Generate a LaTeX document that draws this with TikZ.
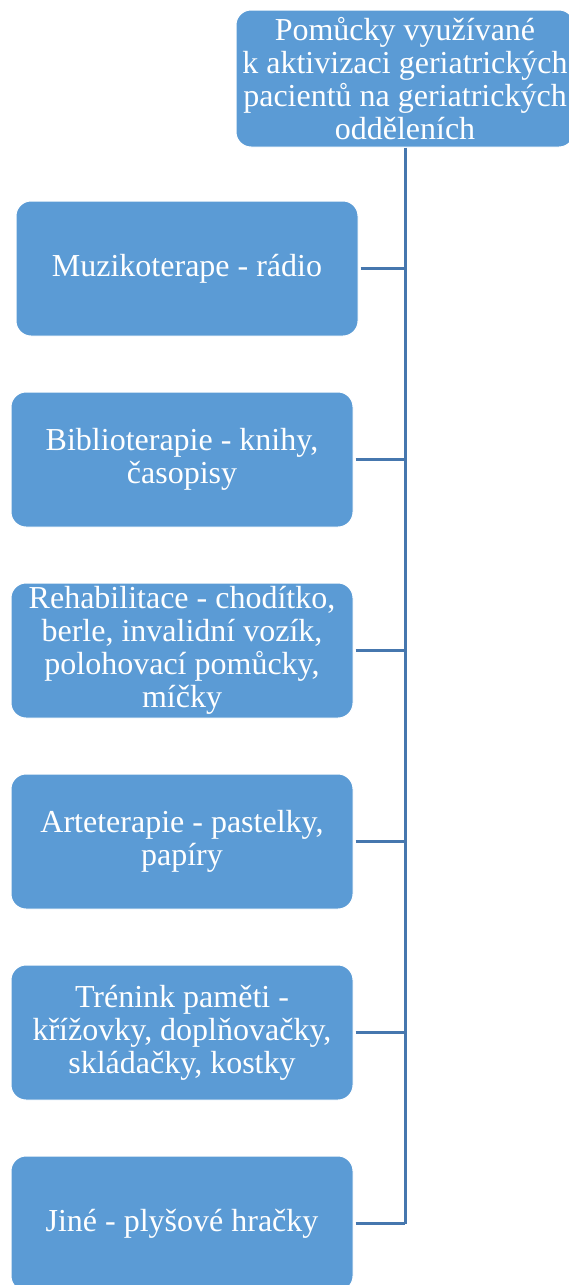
\documentclass[tikz,border=0pt]{standalone}
\usepackage{fontspec}
\setmainfont{Liberation Serif}
\definecolor{boxblue}{HTML}{5B9BD5}
\definecolor{linkblue}{HTML}{4677AE}
\begin{document}
\begin{tikzpicture}[x=1pt,y=-1pt,
  item/.style={draw=white,line width=1pt,fill=boxblue,rounded corners=15pt,
    minimum width=342pt,minimum height=135pt,align=center,text=white,
    font=\fontsize{32}{33}\selectfont,inner sep=1pt},
  link/.style={draw=linkblue,line width=2.8pt}]
\useasboundingbox (0,0) rectangle (568,1285);
\node[item,minimum width=338pt,minimum height=137pt] (top) at (405,78.5)
  {Pomůcky využívané\\k aktivizaci geriatrických\\pacientů na geriatrických\\odděleních};
\node[item] (b1) at (187,268.5) {Muzikoterape - rádio};
\node[item] (b2) at (182,459.5) {Biblioterapie - knihy,\\časopisy};
\node[item] (b3) at (182,650.5) {Rehabilitace - chodítko,\\berle, invalidní vozík,\\polohovací pomůcky,\\míčky};
\node[item] (b4) at (182,841.5) {Arteterapie - pastelky,\\papíry};
\node[item] (b5) at (182,1032.5) {Trénink paměti -\\křížovky, doplňovačky,\\skládačky, kostky};
\node[item] (b6) at (182,1223.5) {Jiné - plyšové hračky};
\draw[link,line width=3pt] (top.south) -- (top.south |- b6.east);
\foreach \b in {b1,b2,b3,b4,b5,b6}{
  \draw[link] ([xshift=2pt]\b.east) -- (\b.east -| top.south);
}
\end{tikzpicture}
\end{document}
